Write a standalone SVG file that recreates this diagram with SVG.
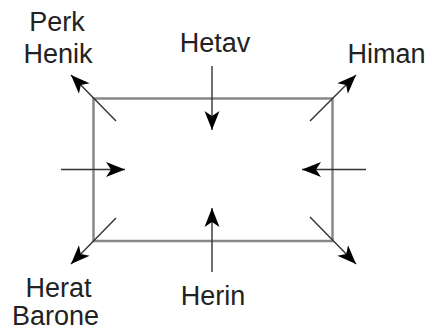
<svg xmlns="http://www.w3.org/2000/svg" width="429" height="330" viewBox="0 0 429 330">
<style>
.lbl{font-family:"Liberation Sans",Arial,sans-serif;font-size:27px;fill:#222;text-anchor:middle}
.con{stroke:#333;stroke-width:1.4;fill:none}
.box{fill:#fff;stroke:#888;stroke-width:2.5}
</style>
<defs>
<marker id="ah" markerUnits="userSpaceOnUse" markerWidth="22" markerHeight="18" viewBox="-20 -9 22 18" refX="0" refY="0" orient="auto">
<path d="M0,0 L-19,-7.5 L-14,0 L-19,7.5 Z" fill="#000"/>
</marker>
</defs>
<rect width="429" height="330" fill="#fff"/>
<g id="center"><rect class="box" x="93.5" y="98.5" width="239" height="142.5"/></g>
<g id="n-perk"><text class="lbl" x="57" y="31">Perk</text><text class="lbl" x="58" y="63">Henik</text></g>
<g id="n-hetav"><text class="lbl" x="215" y="52">Hetav</text></g>
<g id="n-himan"><text class="lbl" x="386.5" y="63">Himan</text></g>
<g id="n-herat"><text class="lbl" x="58.5" y="297">Herat</text><text class="lbl" x="55.5" y="325">Barone</text></g>
<g id="n-herin"><text class="lbl" x="213" y="305">Herin</text></g>
<g id="connectors">
<line class="con" x1="212" y1="66" x2="212" y2="130" marker-end="url(#ah)"/>
<line class="con" x1="212" y1="272" x2="212" y2="208" marker-end="url(#ah)"/>
<line class="con" x1="61" y1="169.5" x2="125" y2="169.5" marker-end="url(#ah)"/>
<line class="con" x1="366" y1="169.5" x2="302" y2="169.5" marker-end="url(#ah)"/>
<line class="con" x1="116" y1="121" x2="71" y2="75" marker-end="url(#ah)"/>
<line class="con" x1="310" y1="121" x2="356" y2="75" marker-end="url(#ah)"/>
<line class="con" x1="116" y1="218" x2="71" y2="264" marker-end="url(#ah)"/>
<line class="con" x1="310" y1="217" x2="356" y2="264" marker-end="url(#ah)"/>
</g>
</svg>
